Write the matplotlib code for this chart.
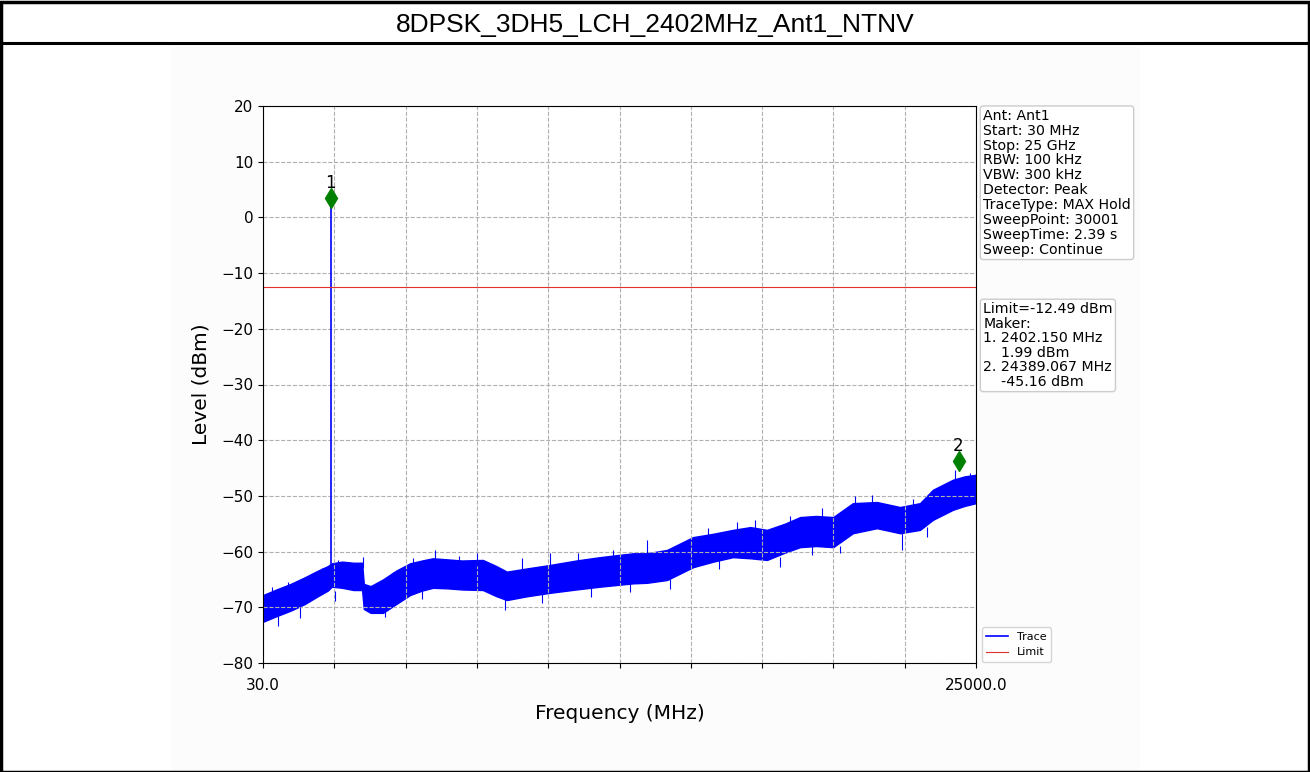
import matplotlib.pyplot as plt
import matplotlib.transforms as mtransforms
from matplotlib.patches import Rectangle
from matplotlib.lines import Line2D
import numpy as np

# ---- trace envelope (MHz, dBm) ----
freq = [30, 500, 1000, 1500, 1920, 2300, 2440, 2800, 3200, 3500,
        3560, 3800, 4230, 4700, 5180, 5600, 5980, 6500, 7000, 7730,
        8200, 8570, 9300, 10080, 11000, 11830, 12990, 13480, 14180, 15090,
        15800, 16490, 17100, 17680, 18300, 18840, 19400, 20000, 20690, 21530,
        22340, 23040, 23490, 24190, 24600, 25000]
upper = [-67.8, -66.8, -65.8, -64.6, -63.5, -62.6, -62.1, -61.8, -62.0, -62.0,
         -65.8, -66.2, -65.0, -63.4, -62.1, -61.6, -61.2, -61.4, -61.6, -61.5,
         -62.6, -63.6, -63.0, -62.4, -61.6, -61.0, -60.3, -60.3, -59.7, -57.4,
         -56.8, -56.1, -55.6, -56.1, -55.0, -53.8, -53.6, -53.8, -51.3, -51.1,
         -52.0, -51.3, -48.9, -47.1, -46.5, -46.2]
lower = [-72.6, -71.6, -70.6, -69.4, -68.1, -67.0, -66.3, -66.5, -66.9, -66.9,
         -70.3, -71.0, -71.0, -69.4, -67.8, -67.0, -66.5, -66.6, -66.8, -66.9,
         -68.0, -68.7, -68.0, -67.4, -66.8, -66.3, -65.7, -65.6, -65.1, -62.8,
         -61.8, -61.0, -61.2, -61.5, -60.2, -59.2, -59.0, -59.2, -56.7, -55.8,
         -56.7, -56.1, -54.3, -52.5, -51.8, -51.3]

# isolated noise peaks / dips sticking out of the band (MHz, from, to dBm)
peak_f = [335, 900, 1430, 2085, 2660, 3540, 4580, 5280, 6050, 6900,
          7520, 9100, 10080, 11060, 12300, 13480, 14600, 15600, 16630, 17260,
          18500, 19610, 20760, 21360, 22800, 24260, 24800]
peak_lo = [-68.5, -67.5, -66.0, -64.5, -63.0, -63.0, -65.0, -63.0, -62.0, -62.5,
           -62.5, -63.5, -63.0, -62.0, -61.5, -61.0, -60.0, -57.5, -57.0, -56.5,
           -55.5, -54.5, -52.0, -52.0, -52.5, -48.0, -47.5]
peak_hi = [-66.3, -65.5, -65.1, -63.0, -61.5, -61.0, -63.6, -61.2, -59.7, -60.8,
           -60.3, -61.2, -60.3, -60.3, -59.8, -58.0, -58.6, -55.8, -54.6, -54.3,
           -53.6, -52.2, -50.1, -49.8, -50.6, -45.4, -45.9]
dip_f = [560, 1330, 2550, 4300, 5600, 8500, 9800, 11500, 12880, 14300,
         16000, 18130, 19260, 20240, 22410, 23300]
dip_hi = [-71.5, -70.0, -67.0, -70.5, -66.8, -68.5, -67.5, -66.5, -65.5, -65.0,
          -61.5, -61.0, -59.0, -59.0, -56.5, -55.5]
dip_lo = [-73.4, -72.0, -68.8, -71.7, -68.5, -70.4, -69.3, -68.2, -67.3, -66.7,
          -63.2, -62.7, -60.6, -60.2, -59.7, -57.3]

# carrier spike
spike_freq = 2402.15
spike_floor = -63.0
spike_peak = 3.4

limit_dbm = -12.49
mk_freq = [2402.150, 24389.067]
mk_level = [1.99, -45.16]

f_start, f_stop = 30.0, 25000.0

fig = plt.figure(figsize=(13.1, 7.72), dpi=100, facecolor='white')

# page frame + title strip
fig.add_artist(Rectangle((0.001, 0), 0.9985, 0.998, transform=fig.transFigure,
                         fill=False, edgecolor='black', linewidth=2.5))
fig.add_artist(Line2D([0, 1], [1 - 43 / 772, 1 - 43 / 772], transform=fig.transFigure,
                      color='black', linewidth=2.2))
fig.text(0.5, 1 - 25 / 772, "8DPSK_3DH5_LCH_2402MHz_Ant1_NTNV", ha='center', va='center',
         fontsize=19, family='Liberation Sans')
fig.add_artist(Rectangle((171 / 1310, 0), (1140 - 171) / 1310, (772 - 47) / 772,
                         transform=fig.transFigure, facecolor='#fcfcfc', edgecolor='none', zorder=-5))

ax = fig.add_axes([263 / 1310, 1 - 663 / 772, (976 - 263) / 1310, (663 - 106) / 772])
ax.set_facecolor('white')

ax.fill_between(freq, lower, upper, color='blue', linewidth=1.0, edgecolor='blue')
ax.vlines(peak_f, peak_lo, peak_hi, color='blue', linewidth=0.8)
ax.vlines(dip_f, dip_lo, dip_hi, color='blue', linewidth=0.8)
ax.plot([spike_freq, spike_freq], [spike_floor, spike_peak], color='blue', linewidth=1.2)
ax.plot([], [], color='blue', linewidth=1.2, label='Trace')
ax.axhline(limit_dbm, color='#e03030', linewidth=0.8, label='Limit')

# markers are lifted a few pixels above the measured level
lift = mtransforms.offset_copy(ax.transData, fig=fig, x=0, y=8, units='dots')
for i, (mf, ml) in enumerate(zip(mk_freq, mk_level), start=1):
    ax.plot(mf, ml, marker='d', color='green', markersize=10, transform=lift, zorder=5)
    ax.text(mf, ml, str(i), ha='center', va='bottom', fontsize=12,
            transform=mtransforms.offset_copy(ax.transData, fig=fig, x=0, y=14, units='dots'))

ax.set_xlim(f_start, f_stop)
ax.set_ylim(-80, 20)
xt = np.linspace(f_start, f_stop, 11)
ax.set_xticks(xt)
ax.set_xticklabels(['30.0'] + [''] * 9 + ['25000.0'])
ax.set_yticks(np.arange(-80, 21, 10))
ax.tick_params(labelsize=11)
ax.tick_params(axis='x', pad=7)
ax.grid(True, linestyle='--', color='#b0b0b0', linewidth=0.8)
ax.set_xlabel('Frequency (MHz)', fontsize=14.5, labelpad=8)
ax.set_ylabel('Level (dBm)', fontsize=14.5, labelpad=8)

info = ("Ant: Ant1\nStart: 30 MHz\nStop: 25 GHz\nRBW: 100 kHz\nVBW: 300 kHz\n"
        "Detector: Peak\nTraceType: MAX Hold\nSweepPoint: 30001\nSweepTime: 2.39 s\nSweep: Continue")
ax.text(1.01, 0.995, info, transform=ax.transAxes, ha='left', va='top', fontsize=10.2,
        linespacing=1.08,
        bbox=dict(boxstyle='round,pad=0.2', facecolor='white', edgecolor='#cccccc'))
mk_txt = ("Limit=%.2f dBm\nMaker:\n1. %.3f MHz\n    %.2f dBm\n2. %.3f MHz\n    %.2f dBm"
          % (limit_dbm, mk_freq[0], mk_level[0], mk_freq[1], mk_level[1]))
ax.text(1.01, 0.648, mk_txt, transform=ax.transAxes, ha='left', va='top', fontsize=10.2,
        linespacing=1.05,
        bbox=dict(boxstyle='round,pad=0.2', facecolor='white', edgecolor='#cccccc'))

ax.legend(loc='lower left', bbox_to_anchor=(1.0, -0.008), fontsize=8)

fig.savefig('out.png', dpi=100, facecolor='white')
